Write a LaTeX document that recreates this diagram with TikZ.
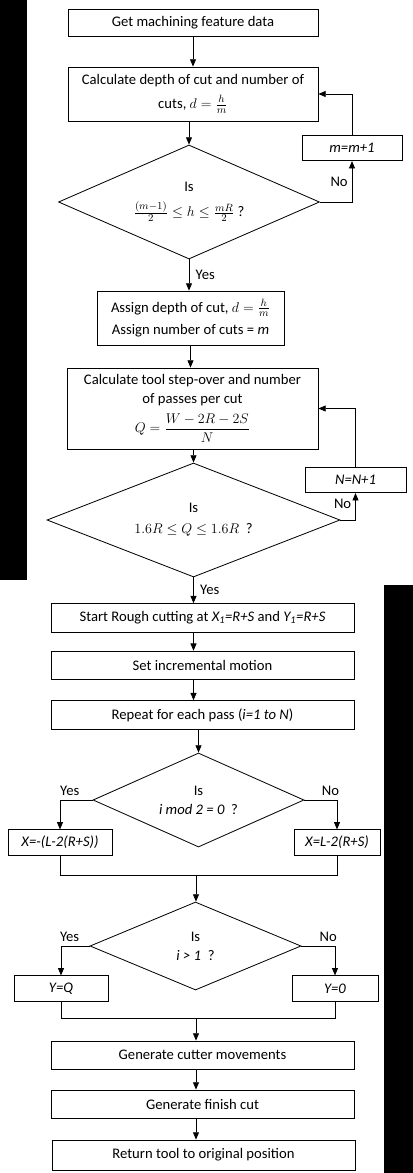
\documentclass[tikz,border=0pt]{standalone}
\usepackage{amsmath}
\usepackage{fontspec}
\setmainfont{Carlito}
\usetikzlibrary{arrows.meta,positioning,shapes.geometric}
\tikzset{
  flowbox/.style={draw, line width=0.7pt, align=center, inner sep=1pt, fill=white},
  decbox/.style={draw, line width=0.7pt, diamond, aspect=2.3, inner sep=0pt, align=center},
  flowline/.style={line width=0.7pt},
  widebox/.style={flowbox, minimum width=9.09cm, minimum height=0.86cm},
  smallbox/.style={flowbox, minimum height=0.76cm},
}

\begin{document}
\begin{tikzpicture}[font=\fontsize{12.5}{16}\selectfont, >={Triangle[length=2.2mm,width=1.8mm]}]
    \useasboundingbox (0,0) rectangle (12.39,-35.19);
    \fill[black] (0,0) rectangle (0.81,-17.4);
    \fill[black] (11.52,-17.55) rectangle (12.39,-35.19);
    \node[flowbox, minimum width=7.5cm, minimum height=0.81cm] (getdata) at (5.79,-0.675) {Get machining feature data};
    \node[flowbox, minimum width=7.5cm, minimum height=1.62cm] (calcd) at (5.79,-2.82)
      {Calculate depth of cut and number of\\[4pt] cuts, $d=\frac{h}{m}$};
    \node[decbox, minimum width=7.83cm, minimum height=3.42cm] (isd) at (5.67,-6.06)
      {Is\\[5pt] $\frac{(m-1)}{2}\le h\le\frac{mR}{2}$\ ?};
    \node[smallbox, minimum width=3.0cm] (incm) at (10.56,-4.44) {\textit{m=m+1}};
    \node[flowbox, minimum width=5.61cm, minimum height=1.62cm] (assign) at (5.715,-9.54)
      {Assign depth of cut, $d=\frac{h}{m}$\\[3pt] Assign number of cuts = \textit{m}};
    \node[flowbox, minimum width=7.53cm, minimum height=2.43cm] (calcq) at (5.775,-12.255)
      {Calculate tool step-over and number\\ of passes per cut\\[6pt] $Q=\dfrac{W-2R-2S}{N}$};
    \node[decbox, minimum width=8.79cm, minimum height=3.42cm] (isq) at (5.805,-15.6)
      {Is\\[2pt] $1.6R\le Q\le 1.6R$\ \ ?};
    \node[smallbox, minimum width=3.03cm] (incn) at (10.665,-14.4) {\textit{N=N+1}};
    \node[widebox] (rough) at (6.075,-18.54)
      {Start Rough cutting at \textit{X\textsubscript{1}=R+S} and \textit{Y\textsubscript{1}=R+S}};
    \node[widebox] (incr) at (6.075,-19.965) {Set incremental motion};
    \node[widebox] (repeat) at (6.075,-21.45) {Repeat for each pass (\textit{i=1 to N})};
    \node[decbox, minimum width=6.33cm, minimum height=2.82cm] (ismod) at (5.955,-24.0)
      {Is\\ \textit{i mod 2 = 0}\ \ ?};
    \node[smallbox, minimum width=3.12cm] (xneg) at (1.8,-25.275) {\textit{X=-(L-2(R+S))}};
    \node[smallbox, minimum width=2.58cm] (xpos) at (10.11,-25.275) {\textit{X=L-2(R+S)}};
    \node[decbox, minimum width=6.33cm, minimum height=2.64cm] (isone) at (5.865,-28.38)
      {Is\\ \textit{i > 1}\ \ ?};
    \node[smallbox, minimum width=2.82cm] (yq) at (1.83,-29.655) {\textit{Y=Q}};
    \node[smallbox, minimum width=2.58cm] (yzero) at (10.05,-29.655) {\textit{Y=0}};
    \node[widebox, minimum height=0.84cm] (cutter) at (6.075,-31.65) {Generate cutter movements};
    \node[widebox, minimum height=0.84cm] (finish) at (6.075,-33.12) {Generate finish cut};
    \node[widebox, minimum height=0.9cm] (ret) at (6.105,-34.65) {Return tool to original position};
    \coordinate (joinx) at (5.88,-26.25);
    \coordinate (joiny) at (5.88,-30.54);

    \draw[flowline,->] (getdata.south) -- (getdata.south |- calcd.north);
    \draw[flowline,->] (isd.north |- calcd.south) -- (isd.north);
    \draw[flowline,->] (isd.east) -| node[pos=0.75, left]{No} (incm.south);
    \draw[flowline,->] (incm.north) |- (calcd.east);
    \draw[flowline,->] (isd.south) -- node[right, xshift=2pt]{Yes} (isd.south |- assign.north);
    \draw[flowline,->] (assign.south) -- (assign.south |- calcq.north);
    \draw[flowline,->] (isq.north |- calcq.south) -- (isq.north);
    \draw[flowline,->] (isq.east) -| node[pos=0.8, left]{No} (incn.south);
    \draw[flowline,->] (incn.north) |- (calcq.east);
    \draw[flowline,->] (isq.south) -- node[right, xshift=2pt]{Yes} (isq.south |- rough.north);
    \draw[flowline,->] (isq.south |- rough.south) -- (isq.south |- incr.north);
    \draw[flowline,->] (isq.south |- incr.south) -- (isq.south |- repeat.north);
    \draw[flowline,->] (ismod.north |- repeat.south) -- (ismod.north);
    \draw[flowline,->] (ismod.west) -| node[pos=0.35, above]{Yes} (xneg.north);
    \draw[flowline,->] (ismod.east) -| node[pos=0.4, above]{No} (xpos.north);
    \draw[flowline] (xneg.south) |- (joinx) -| (xpos.south);
    \draw[flowline,->] (joinx) -- (joinx |- isone.north);
    \draw[flowline,->] (isone.west) -| node[pos=0.35, above]{Yes} (yq.north);
    \draw[flowline,->] (isone.east) -| node[pos=0.4, above]{No} (yzero.north);
    \draw[flowline] (yq.south) |- (joiny) -| (yzero.south);
    \draw[flowline,->] (joiny) -- (joiny |- cutter.north);
    \draw[flowline,->] (joiny |- cutter.south) -- (joiny |- finish.north);
    \draw[flowline,->] (joiny |- finish.south) -- (joiny |- ret.north);
\end{tikzpicture}
\end{document}
